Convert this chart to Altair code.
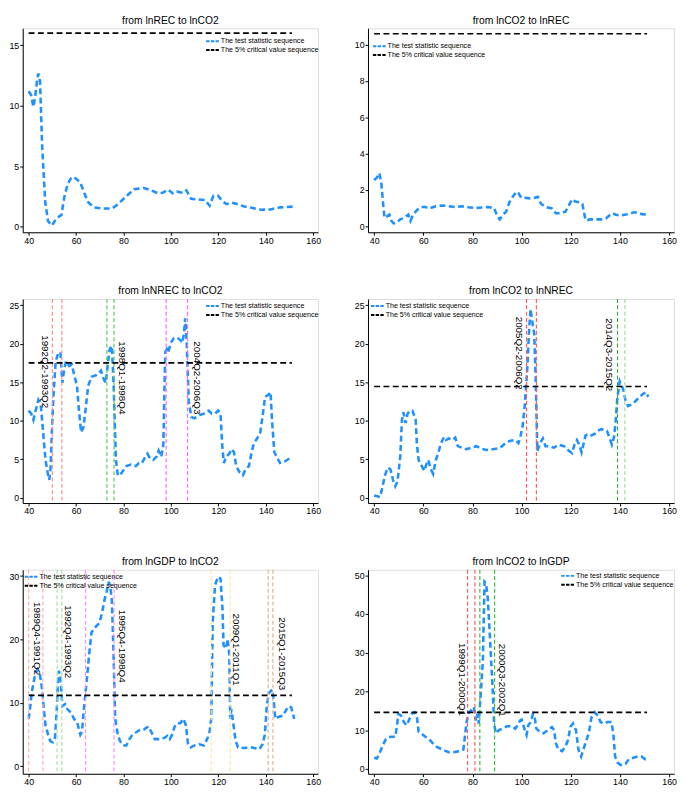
import altair as alt
import pandas as pd

FONT = "Liberation Sans"
BLUE = "#1E90FF"
LEG_STAT = "The test statistic sequence"
LEG_CRIT = "The 5% critical value sequence"

titles = ["from lnREC to lnCO2", "from lnCO2 to lnREC",
          "from lnNREC to lnCO2", "from lnCO2 to lnNREC",
          "from lnGDP to lnCO2", "from lnCO2 to lnGDP"]

x_ticks = [40, 60, 80, 100, 120, 140, 160]
crit_x_start, crit_x_end = 40, 151
crit_values = [16.0, 10.6, 17.5, 14.45, 11.2, 14.6]

# ---- panel 1: lnREC -> lnCO2
p1_x = [40, 41, 42, 42.8, 43.6, 44.1, 44.8, 45.7, 47, 48.2, 49.8, 51.8, 53.8, 55.1, 56.4, 58.1, 59.8,
        61.8, 63.5, 65.2, 67.5, 71.3, 75.1, 77.8, 80.5, 84.5, 88.5, 91.8, 94.5, 96.5, 98.8, 100.8,
        102.5, 105.2, 106.5, 108.5, 111.2, 114.5, 116.3, 117.9, 119.9, 121.9, 123.5, 125.5, 127.9,
        130.6, 134, 138, 142, 146, 151.3]
p1_y = [11.2, 10.9, 9.9, 10.8, 12.2, 12.65, 12.0, 6.6, 2.0, 0.46, 0.1, 0.7, 0.97, 2.5, 3.5, 4.1, 4.0,
        3.65, 2.76, 2.0, 1.6, 1.5, 1.5, 1.87, 2.4, 3.1, 3.2, 3.0, 2.76, 2.8, 3.07, 2.76,
        2.9, 2.8, 3.0, 2.3, 2.25, 2.2, 1.74, 2.55, 2.55, 2.07, 1.87, 2.0, 1.87,
        1.69, 1.56, 1.4, 1.43, 1.6, 1.66]

# ---- panel 2: lnCO2 -> lnREC
p2_x = [40, 41.1, 42.1, 42.9, 43.6, 44.2, 45.3, 46.2, 47, 47.9, 49.2, 50.6, 52.3, 53.9, 54.8, 55.8,
        57.4, 59.1, 60.8, 62.4, 65.1, 67.7, 70.3, 73, 75.6, 78.3, 80.9, 83.5, 86.2, 88.8, 90.1, 91.1,
        92.4, 93.7, 95, 96.5, 98, 98.7, 99.8, 101.3, 103.3, 105.3, 106.6, 107.9, 109.9, 112.3, 113.9,
        115.9, 117.8, 119.2, 120.5, 121.8, 123.8, 124.7, 125.8, 126.4, 127.7, 129.7, 132.4, 134.3,
        135.6, 137, 138.3, 140.3, 142.9, 145.5, 146.9, 148.8, 151.5]
p2_y = [2.53, 2.67, 2.92, 2.41, 1.31, 0.46, 0.54, 0.63, 0.29, 0.15, 0.2, 0.37, 0.46, 0.63, 0.29, 0.63,
        0.88, 1.05, 1.05, 0.97, 1.09, 1.14, 1.1, 1.05, 1.09, 1.04, 1.0, 1.02, 1.05, 1.0, 0.54, 0.37,
        0.63, 0.8, 1.31, 1.65, 1.9, 1.82, 1.56, 1.56, 1.53, 1.56, 1.61, 1.22, 1.05, 0.97, 0.71,
        0.71, 0.8, 1.14, 1.48, 1.36, 1.31, 1.22, 0.46, 0.29, 0.37, 0.37, 0.37, 0.42,
        0.58, 0.71, 0.63, 0.58, 0.66, 0.75, 0.76, 0.66, 0.63]

# ---- panel 3: lnNREC -> lnCO2
p3_x = [40, 41.1, 42, 43.1, 44.1, 45.1, 46.1, 47.1, 48.2, 48.7, 49.2, 49.8, 50.4, 51.4, 52.4, 53.4,
        54.2, 55.1, 55.8, 57.1, 58.2, 59.1, 60.4, 61.1, 62.1, 63.1, 64.1, 65.1, 66.5, 68.5, 70.5,
        71.5, 72.5, 73.5, 74.2, 75.1, 75.8, 76.8, 77.6, 78.5, 79.8, 81.2, 83.2, 85.2, 86.5, 87.8,
        89.2, 90.1, 91.2, 92.5, 93.9, 94.8, 95.9, 96.8, 97.6, 98.3, 98.9, 99.9, 101.2, 102.5, 103.9,
        104.8, 105.5, 106, 106.6, 107.5, 108.6, 109.9, 111.9, 113.9, 115.9, 117.2, 118.6, 119.9,
        120.9, 121.7, 122.3, 123.3, 124.6, 125.7, 126.6, 127.5, 128.9, 130.3, 131.5, 132.9, 133.9,
        135, 136.4, 137.7, 138.6, 139.7, 140.9, 142, 142.6, 143.6, 144.6, 146, 148, 150, 151.3]
p3_y = [11.3, 10.9, 10.1, 11.5, 12.7, 12.1, 8.5, 4.9, 2.9, 2.3, 3.7, 8.5, 12.9, 17.7, 18.7, 18.9,
        14.9, 16.9, 17.7, 17.1, 17.3, 16.1, 14.5, 11.7, 8.5, 9.1, 11.7, 14.5, 15.7, 15.9, 16.5,
        15.5, 14.9, 17.7, 19.3, 19.7, 14.9, 4.9, 2.9, 2.9, 3.5, 4.1, 4.3, 4.1, 4.5, 4.5,
        5.3, 5.7, 5.1, 4.9, 5.3, 6.1, 5.3, 6.9, 18.9, 19.3, 18.9, 20.1, 20.7, 20.8, 20.5,
        20.1, 21.3, 23.3, 20.5, 12.5, 10.5, 10.3, 10.7, 10.9, 11.3, 10.9, 10.9, 11.3,
        10.9, 6.5, 4.5, 5.3, 5.7, 6.3, 5.9, 4.1, 3.3, 2.9, 3.7, 4.1, 5.7,
        7.1, 7.7, 8.5, 10.5, 13.1, 13.3, 13.7, 10.1, 5.9, 5.3, 4.5, 4.7, 5.1, 5.0]
p3_breaks = [50, 54, 73, 76, 98, 107]
p3_break_colors = ["#FF8C8C", "#FF8C8C", "#5CC85C", "#5CC85C", "#FF66FF", "#FF66FF"]
p3_labels = ["1992Q2-1993Q2", "1998Q1-1998Q4", "2004Q2-2006Q3"]
p3_label_x = [46.8, 79.4, 111.0]
p3_label_y = [21.1, 20.3, 20.3]

# ---- panel 4: lnCO2 -> lnNREC
p4_x = [40, 41.3, 42.4, 43.3, 44.4, 45.5, 46.6, 47.7, 48.6, 49.5, 50.6, 51.3, 51.9, 52.8, 53.6, 54.5,
        55.6, 56.9, 57.4, 58.1, 59.1, 60.4, 61.4, 62, 63.1, 64, 65.1, 66, 67, 68.4, 69.3, 70.3, 71.7,
        73, 74, 75.6, 77.6, 79.6, 81.6, 83.5, 85.5, 88.2, 90.1, 92.1, 93.4, 95.4, 97.4, 98.7, 99.6,
        100.4, 101.3, 102.3, 103.1, 103.6, 104.3, 105.1, 105.7, 106.4, 107.3, 108.6, 109.7, 111.2,
        113.2, 114.9, 117.2, 119.2, 120.5, 121.5, 122.5, 123.4, 124.4, 125.1, 126, 127.1, 128.4,
        129.7, 131, 132.4, 133.7, 134.7, 135.6, 136.7, 137.6, 138.3, 138.9, 139.9, 140.7, 141.3,
        142.2, 143.3, 144.6, 146.2, 147.9, 149.5, 150.6, 151.5]
p4_y = [0.3, 0.2, 0.1, 1.3, 2.9, 3.9, 3.7, 2.3, 1.5, 2.1, 5.3, 10.1, 11.1, 9.7, 10.9, 11.3,
        11.3, 10.1, 6.9, 4.9, 4.3, 3.5, 4.5, 4.9, 3.7, 3.1, 4.9, 5.7, 6.9, 7.9, 7.5, 7.7, 7.5,
        7.8, 6.7, 6.5, 6.3, 6.5, 6.7, 6.4, 6.2, 6.3, 6.4, 6.7, 7.1, 7.4, 7.5, 7.1, 8.1,
        9.3, 12.1, 16.9, 22.1, 24.5, 22.9, 21.3, 15.7, 6.1, 6.9, 7.7, 6.7, 6.7,
        6.5, 6.9, 6.7, 6.1, 5.8, 6.9, 7.5, 6.9, 5.9, 6.9, 8.1, 8.3, 8.1,
        8.3, 8.7, 8.9, 8.8, 8.7, 7.9, 6.9, 7.9, 10.1, 12.9, 15.1, 14.5, 14.1,
        12.7, 11.9, 12.1, 12.5, 13.1, 13.5, 13.7, 13.1]
p4_breaks = [102, 106, 139, 142]
p4_break_colors = ["#FF5C5C", "#FF5C5C", "#3DAA3D", "#9ADF9A"]
p4_labels = ["2005Q2-2006Q2", "2014Q3-2015Q2"]
p4_label_x = [98.7, 135.6]
p4_label_y = [23.5, 23.3]

# ---- panel 5: lnGDP -> lnCO2
p5_x = [40, 40.7, 41.3, 42, 42.8, 43.7, 44.7, 45.7, 46.4, 47.1, 48.2, 49.1, 50.2, 51.1, 51.8, 52.4,
        52.8, 53.5, 54.2, 55.4, 56.4, 57.8, 59.1, 60.4, 61.8, 62.5, 63.4, 64.5, 65.5, 66.5, 67.4,
        68.5, 69.8, 70.9, 71.9, 72.9, 73.8, 74.5, 75.1, 75.8, 76.5, 77.6, 78.5, 79.8, 81.2, 82.5,
        83.8, 85.8, 87.2, 88.5, 90.5, 91.9, 93.2, 95.2, 97.2, 98.5, 99.5, 100.5, 101.6, 102.5,
        103.9, 105.2, 106.3, 107.2, 108.3, 109.9, 111.9, 113.9, 115.5, 116.3, 117, 117.6, 118.6,
        119.9, 120.9, 121.7, 122.2, 123.3, 123.9, 124.6, 125, 125.5, 126.2, 127.3, 128.3, 130.6,
        133.9, 137.3, 138.6, 139.6, 140.4, 141.3, 142.7, 143.3, 144, 145.3, 147.3, 148.4, 149.7,
        150.7, 152]
p5_y = [7.5, 9.5, 11.6, 13.1, 14.6, 15.3, 14.6, 12.1, 9.0, 6.5, 5.0, 4.0, 3.8, 4.5, 8.5, 13.6,
        15.1, 13.6, 9.5, 9.8, 9.0, 8.5, 7.5, 7.0, 5.0, 5.5, 9.5, 13.6, 17.6, 21.1, 21.6,
        22.1, 22.6, 24.1, 26.1, 27.6, 29.1, 28.1, 26.1, 17.6, 7.5, 5.0, 4.0, 3.3, 3.3, 4.3,
        5.0, 5.5, 5.8, 5.8, 6.3, 5.3, 4.3, 4.3, 4.5, 4.8, 4.3, 5.0, 6.3, 6.8,
        6.8, 7.5, 6.5, 3.5, 3.0, 3.3, 3.5, 3.3, 4.5, 5.5, 7.5, 22.6, 28.6,
        29.9, 29.6, 25.1, 19.1, 18.6, 20.1, 17.6, 7.5, 9.0, 7.0, 4.0, 3.0, 2.9,
        3.0, 2.7, 3.5, 5.0, 9.5, 11.6, 12.1, 10.6, 7.5, 7.8, 8.0, 8.8, 9.5,
        9.3, 7.5]
p5_breaks = [40, 46, 52, 54, 64, 76, 117, 125, 141, 143]
p5_break_colors = ["#FFB0B0", "#FFB0B0", "#A6E3A6", "#A6E3A6", "#FF8CFF", "#FF8CFF",
                   "#FFE6A0", "#FFE6A0", "#D8B49A", "#D8B49A"]
p5_labels = ["1989Q4-1991Q2", "1992Q4-1993Q2", "1995Q4-1998Q4", "2009Q1-2011Q1", "2015Q1-2015Q3"]
p5_label_x = [43.7, 56.4, 79.2, 127.5, 146.6]
p5_label_y = [25.9, 25.4, 24.7, 24.1, 23.5]

# ---- panel 6: lnCO2 -> lnGDP
p6_x = [40, 41.1, 42, 43.3, 44.6, 45.7, 47.3, 48.6, 49.2, 49.9, 51, 52.1, 53.2, 54.1, 55.2, 56.5,
        57.4, 58.1, 59.1, 60.8, 62.2, 63.7, 65.5, 67.7, 70.3, 73, 75, 76.3, 76.9, 77.6, 78.5, 79.6,
        80.6, 81.3, 82, 82.5, 82.9, 83.5, 84.2, 84.9, 85.5, 86.2, 86.8, 87.5, 88.2, 88.8, 89.5,
        90.8, 92.1, 94.1, 96.1, 97.4, 98.3, 99.4, 100, 100.7, 101.3, 102, 102.7, 103.7, 104.6,
        105.3, 106, 107.3, 108.9, 110.6, 112.3, 113.2, 113.9, 114.9, 116.5, 117.8, 118.9, 119.8,
        120.9, 122.1, 123.1, 124.2, 125.1, 126.4, 127.3, 128.4, 129.7, 131, 132.1, 133.4, 135,
        136.6, 137.4, 138, 138.9, 140.3, 142.2, 143.6, 145.5, 147.5, 148.8, 150.2, 151.5]
p6_y = [2.9, 2.7, 3.75, 5.8, 7.5, 8.2, 8.3, 8.3, 10.8, 14.2, 13.75, 12.1, 11.25, 12.5, 14.2, 14.6,
        13.3, 9.6, 9.2, 8.3, 7.75, 6.7, 5.7, 5.0, 4.3, 4.4, 4.6, 5.0, 8.3, 12.1, 14.6, 15.2,
        16.0, 12.5, 14.2, 11.7, 15.0, 20.8, 27.5, 48.3, 47.9, 44.2, 37.5, 29.2, 20.8, 11.7, 9.2,
        10.0, 10.4, 11.0, 11.0, 10.4, 11.25, 12.5, 12.7, 11.25, 10.0, 8.75, 11.25, 12.1, 14.2,
        13.3, 10.4, 9.6, 9.2, 10.0, 10.8, 10.0, 6.7, 5.0, 4.6, 5.8, 7.5, 10.8,
        11.7, 10.0, 5.0, 3.2, 5.0, 7.5, 9.2, 13.3, 14.6, 13.75, 12.1, 11.7, 12.1,
        12.1, 8.3, 3.3, 1.7, 1.0, 1.25, 2.5, 2.9, 3.3, 3.2, 2.5, 2.3]
p6_breaks = [78, 81, 83, 89]
p6_break_colors = ["#FF5C5C", "#FF5C5C", "#3DBB3D", "#3DBB3D"]
p6_labels = ["1999Q1-2000Q1", "2000Q3-2002Q1"]
p6_label_x = [75.6, 92.1]
p6_label_y = [32.5, 32.3]

W_LEFT, W_RIGHT, H = 301, 312, 208


def panel(title, xs, ys, cv, ydom, yticks, width, legx, legy,
          breaks=None, bcolors=None, ltext=None, lx=None, ly=None):
    xscale = alt.Scale(domain=[37.5, 162], nice=False, zero=False)
    yscale = alt.Scale(domain=ydom, nice=False, zero=False)
    xaxis = alt.Axis(values=x_ticks, tickSize=3, labelPadding=1, labelFontSize=9, grid=False,
                     title=None, domainColor="black", tickColor="black", labelColor="black",
                     labelFlush=False, labelFont=FONT)
    yaxis = alt.Axis(values=yticks, tickSize=3, labelPadding=1, labelFontSize=9, grid=False,
                     title=None, domainColor="black", tickColor="black", labelColor="black",
                     labelFont=FONT)
    cscale = alt.Scale(domain=[LEG_STAT, LEG_CRIT], range=[BLUE, "black"])
    legend = alt.Legend(orient="none", legendX=legx, legendY=legy, title=None,
                        symbolType="stroke", symbolSize=169, symbolStrokeWidth=2,
                        symbolDash=[3.5, 1.3], clipHeight=8.5, rowPadding=0, padding=0,
                        labelFontSize=7.2, labelFont=FONT, labelColor="black",
                        labelOffset=1, labelLimit=0)

    sdf = pd.DataFrame({"x": xs, "y": ys, "k": LEG_STAT})
    line = alt.Chart(sdf).mark_line(strokeWidth=2.6, strokeDash=[6, 3.5]).encode(
        x=alt.X("x:Q", scale=xscale, axis=xaxis),
        y=alt.Y("y:Q", scale=yscale, axis=yaxis),
        color=alt.Color("k:N", scale=cscale, legend=legend),
        order=alt.Order("x:Q"),
    )
    cdf = pd.DataFrame({"x0": [crit_x_start], "x1": [crit_x_end], "y": [cv], "k": [LEG_CRIT]})
    crit = alt.Chart(cdf).mark_rule(strokeWidth=1.6, strokeDash=[6, 3.5]).encode(
        x=alt.X("x0:Q", scale=xscale, axis=xaxis),
        x2="x1:Q",
        y=alt.Y("y:Q", scale=yscale, axis=yaxis),
        color=alt.Color("k:N", scale=cscale, legend=legend),
    )
    layers = [line]
    if breaks:
        bdf = pd.DataFrame({"x": breaks, "c": bcolors})
        layers.append(alt.Chart(bdf).mark_rule(strokeWidth=1.2, strokeDash=[4, 2.5]).encode(
            x=alt.X("x:Q", scale=xscale, axis=xaxis),
            stroke=alt.Stroke("c:N", scale=None),
        ))
    layers.append(crit)
    if ltext:
        tdf = pd.DataFrame({"x": lx, "y": ly, "t": ltext})
        layers.append(alt.Chart(tdf).mark_text(angle=90, align="left", baseline="middle",
                                               fontSize=10, font=FONT, color="black").encode(
            x=alt.X("x:Q", scale=xscale, axis=xaxis),
            y=alt.Y("y:Q", scale=yscale, axis=yaxis),
            text="t:N",
        ))
    return alt.layer(*layers).properties(
        width=width, height=H,
        title=alt.Title(title, fontSize=10.5, font=FONT, fontWeight="normal", offset=2,
                        color="black", anchor="middle"),
    )


c1 = panel(titles[0], p1_x, p1_y, crit_values[0], [-0.46, 16.4], [0, 5, 10, 15], W_LEFT, 186, 9)
c2 = panel(titles[1], p2_x, p2_y, crit_values[1], [-0.34, 10.9], [0, 2, 4, 6, 8, 10], W_RIGHT, 4, 14)
c3 = panel(titles[2], p3_x, p3_y, crit_values[2], [-0.7, 25.8], [0, 5, 10, 15, 20, 25], W_LEFT, 186, 3,
           p3_breaks, p3_break_colors, p3_labels, p3_label_x, p3_label_y)
c4 = panel(titles[3], p4_x, p4_y, crit_values[3], [-0.68, 25.8], [0, 5, 10, 15, 20, 25], W_RIGHT, 2, 3,
           p4_breaks, p4_break_colors, p4_labels, p4_label_x, p4_label_y)
c5 = panel(titles[4], p5_x, p5_y, crit_values[4], [-1.16, 31.0], [0, 10, 20, 30], W_LEFT, 1, 3,
           p5_breaks, p5_break_colors, p5_labels, p5_label_x, p5_label_y)
c6 = panel(titles[5], p6_x, p6_y, crit_values[5], [-1.25, 51.4], [0, 10, 20, 30, 40, 50], W_RIGHT, 196, 2,
           p6_breaks, p6_break_colors, p6_labels, p6_label_x, p6_label_y)


def row(a, b):
    return alt.hconcat(a, b, spacing=32).resolve_scale(color="independent").resolve_legend(
        color="independent")


chart = alt.vconcat(row(c1, c2), row(c3, c4), row(c5, c6), spacing=40).resolve_scale(
    color="independent").resolve_legend(color="independent").properties(
    padding=0
).configure_view(stroke="#9a9a9a", strokeWidth=1).configure(font=FONT)

chart.save("out.html", embed_options={"renderer": "svg", "actions": False})
